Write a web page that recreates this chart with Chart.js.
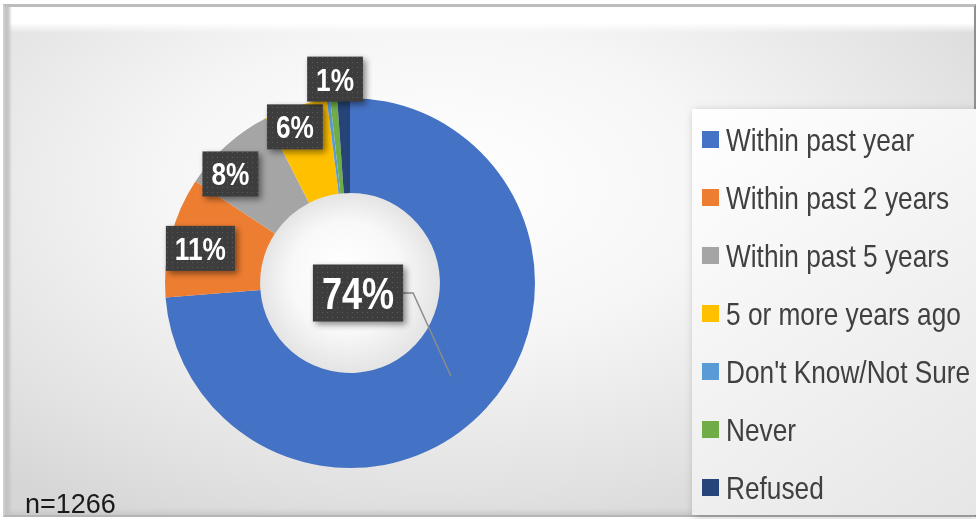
<!DOCTYPE html>
<html>
<head>
<meta charset="utf-8">
<script src="https://cdn.jsdelivr.net/npm/chart.js@4.4.1/dist/chart.umd.min.js"></script>
<style>
    html, body { margin: 0; padding: 0; background: #fff; }
    #wrap { position: relative; width: 976px; height: 519px; overflow: hidden; }
    /* 바깥 프레임 + 배경 그라데이션 */
    .frame {
        position: absolute; left: 3px; top: 4px; width: 973px; height: 513px;
        box-sizing: border-box;
        border-top: 3px solid #bdbdbd;
        border-left: 2px solid #cfcfcf;
        border-right: 2px solid #8f8f8f;
        border-bottom: 2px solid #b5b5b5;
        background:
            linear-gradient(to bottom, #ffffff 0px, #ffffff 16px, rgba(255,255,255,0) 26px),
            radial-gradient(ellipse 70% 75% at 45% 35%, #ffffff 0%, #f6f6f6 40%, #e2e2e2 80%, #d6d6d6 100%);
        box-shadow: inset 9px 0 3px -4px #c4c4c4, inset 0 -6px 4px -3px #c8c8c8;
    }
    canvas { position: absolute; left: 0; top: 0; }
</style>
</head>
<body>
<div id="wrap">
    <div class="frame"></div>
    <canvas id="donutChart" width="976" height="519"></canvas>
</div>
<script>
// 데이터
const categories = [
    'Within past year',
    'Within past 2 years',
    'Within past 5 years',
    '5 or more years ago',
    "Don't Know/Not Sure",
    'Never',
    'Refused'
];
const shares = [73.6, 10.5, 8.2, 5.5, 0.3, 0.6, 1.1];
const sampleNote = 'n=1266';

// 색상 (Office 팔레트)
const sliceColors = ['#4472C4', '#ED7D31', '#A5A5A5', '#FFC000', '#5B9BD5', '#70AD47', '#264478'];

// 라벨 위치 (조각 중앙각 기준 반지름 비율 / 각도 보정)
const labelPlacement = [
    { inside: true, dx: 8, dy: 10 },
    { r: 0.83, turn: -1.4 },
    { r: 0.875, turn: -5.8 },
    { r: 0.895, turn: -2.3 },
    null,
    null,
    { r: 1.105, turn: -2.2 }
];

const FONT = '"Liberation Sans", Arial, sans-serif';
const NARROW = 0.82; // Arial Narrow 비슷하게

function narrowText(ctx, text, x, y) {
    ctx.save();
    ctx.translate(x, y);
    ctx.scale(NARROW, 1);
    ctx.fillText(text, 0, 0);
    ctx.restore();
}

// 점무늬 라벨 배경
function makeDotPattern(ctx) {
    const c = document.createElement('canvas');
    c.width = 5; c.height = 5;
    const p = c.getContext('2d');
    p.fillStyle = '#3d3d3d';
    p.fillRect(0, 0, 5, 5);
    p.fillStyle = '#5c5c5c';
    p.fillRect(2, 2, 1, 1);
    return ctx.createPattern(c, 'repeat');
}

// 도넛 구멍 음영
const holeShade = {
    id: 'holeShade',
    beforeDatasetsDraw(chart) {
        const arc = chart.getDatasetMeta(0).data[0];
        if (!arc) return;
        const { x, y, innerRadius } = arc.getProps(['x', 'y', 'innerRadius'], true);
        const ctx = chart.ctx;
        const g = ctx.createRadialGradient(x - 10, y - 15, 5, x, y, innerRadius);
        g.addColorStop(0, '#ffffff');
        g.addColorStop(0.6, '#f8f8f8');
        g.addColorStop(1, '#e4e4e4');
        ctx.save();
        ctx.beginPath();
        ctx.arc(x, y, innerRadius + 1, 0, Math.PI * 2);
        ctx.fillStyle = g;
        ctx.fill();
        ctx.restore();
    }
};

// 퍼센트 라벨 박스
const boxLabels = {
    id: 'boxLabels',
    afterDatasetsDraw(chart) {
        const ctx = chart.ctx;
        const meta = chart.getDatasetMeta(0);
        const values = chart.data.datasets[0].data;
        const total = values.reduce((a, b) => a + b, 0);
        const pattern = makeDotPattern(ctx);

        meta.data.forEach((arc, i) => {
            const place = labelPlacement[i];
            if (!place || values[i] < 1) return;
            const p = arc.getProps(['x', 'y', 'startAngle', 'endAngle', 'innerRadius', 'outerRadius'], true);
            const mid = (p.startAngle + p.endAngle) / 2;
            const text = Math.round(values[i] / total * 100) + '%';
            const fontSize = place.inside ? 44 : 32;
            ctx.font = 'bold ' + fontSize + 'px ' + FONT;
            const tw = ctx.measureText(text).width * NARROW;
            const bw = tw + 18;
            const bh = fontSize + 13;

            let cx, cy;
            if (place.inside) {
                cx = p.x + place.dx;
                cy = p.y + place.dy;
            } else {
                const a = mid + place.turn * Math.PI / 180;
                cx = p.x + Math.cos(a) * p.outerRadius * place.r;
                cy = p.y + Math.sin(a) * p.outerRadius * place.r;
            }

            ctx.save();
            // 지시선
            if (place.inside) {
                const rm = (p.innerRadius + p.outerRadius) / 2;
                ctx.strokeStyle = '#8c8c8c';
                ctx.lineWidth = 1.5;
                ctx.beginPath();
                ctx.moveTo(cx + bw / 2, cy);
                ctx.lineTo(cx + bw / 2 + 10, cy);
                ctx.lineTo(p.x + Math.cos(mid) * rm, p.y + Math.sin(mid) * rm);
                ctx.stroke();
            }
            ctx.shadowColor = 'rgba(0,0,0,0.45)';
            ctx.shadowBlur = 6;
            ctx.shadowOffsetX = 3;
            ctx.shadowOffsetY = 3;
            ctx.fillStyle = pattern;
            ctx.fillRect(cx - bw / 2, cy - bh / 2, bw, bh);
            ctx.shadowColor = 'transparent';
            ctx.fillStyle = '#ffffff';
            ctx.textAlign = 'center';
            ctx.textBaseline = 'alphabetic';
            narrowText(ctx, text, cx, cy + fontSize * 0.36);
            ctx.restore();
        });
    }
};

// 오른쪽 범례 + n 표기
const sideLegend = {
    id: 'sideLegend',
    afterDraw(chart) {
        const ctx = chart.ctx;
        const labels = chart.data.labels;
        const colors = chart.data.datasets[0].backgroundColor;
        const px = 692, py = 109, pw = 284, ph = 406;

        ctx.save();
        ctx.shadowColor = 'rgba(0,0,0,0.25)';
        ctx.shadowBlur = 8;
        ctx.shadowOffsetX = 2;
        ctx.shadowOffsetY = 2;
        const g = ctx.createLinearGradient(px, py, px + pw, py + ph);
        g.addColorStop(0, '#ffffff');
        g.addColorStop(1, '#e6e6e6');
        ctx.fillStyle = g;
        ctx.fillRect(px, py, pw, ph);
        ctx.restore();

        ctx.save();
        ctx.font = '32px ' + FONT;
        ctx.textAlign = 'left';
        ctx.textBaseline = 'alphabetic';
        labels.forEach((label, i) => {
            const rowY = 139.5 + i * 58;
            ctx.fillStyle = colors[i];
            ctx.fillRect(702, rowY - 8.5, 17, 17);
            ctx.fillStyle = '#404040';
            narrowText(ctx, label, 726, rowY + 11);
        });
        ctx.restore();

        ctx.save();
        ctx.font = '27px ' + FONT;
        ctx.fillStyle = '#1a1a1a';
        ctx.textAlign = 'left';
        ctx.textBaseline = 'alphabetic';
        ctx.fillText(sampleNote, 25, 513);
        ctx.restore();
    }
};

// 차트 생성
function createChart() {
    const canvas = document.getElementById('donutChart');
    new Chart(canvas, {
        type: 'doughnut',
        data: {
            labels: categories,
            datasets: [{
                data: shares,
                backgroundColor: sliceColors,
                borderWidth: 0
            }]
        },
        options: {
            responsive: false,
            animation: false,
            devicePixelRatio: 1,
            radius: 185,
            cutout: '48.6%',
            layout: {
                padding: { left: 0, right: 276, top: 47, bottom: 0 }
            },
            plugins: {
                legend: { display: false },
                tooltip: { enabled: false }
            }
        },
        plugins: [holeShade, boxLabels, sideLegend]
    });
}

document.addEventListener('DOMContentLoaded', createChart);
</script>
</body>
</html>
